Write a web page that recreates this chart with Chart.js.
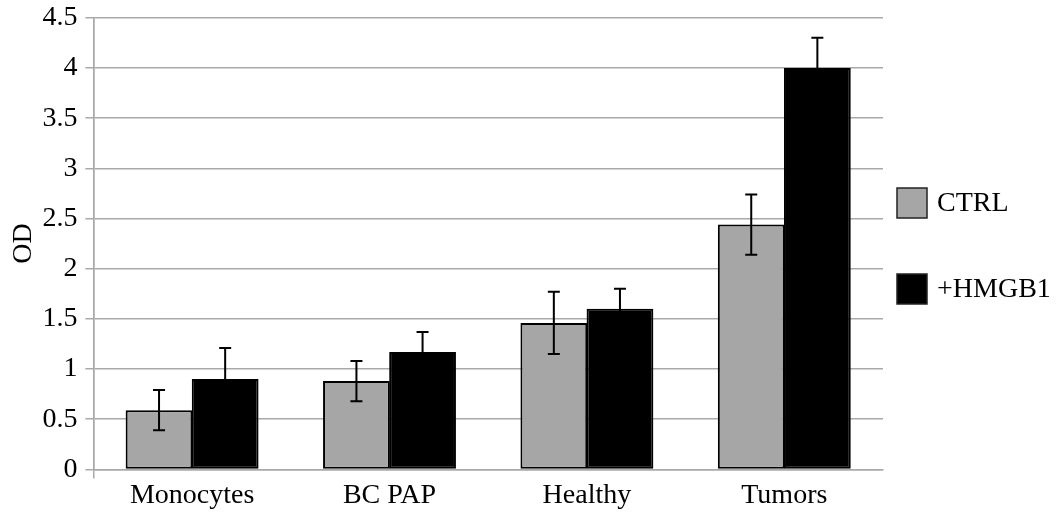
<!DOCTYPE html>
<html>
<head>
<meta charset="utf-8">
<script src="https://cdn.jsdelivr.net/npm/chart.js@4"></script>
<style>
  body { margin: 0; background: #fff; }
  #wrap { width: 1063px; height: 525px; }
</style>
</head>
<body>
<div id="wrap"><canvas id="odChart" width="1063" height="525"></canvas></div>
<script>
// --- Data ---
const categories = ['Monocytes', 'BC PAP', 'Healthy', 'Tumors'];
const ctrlValues = [0.59, 0.88, 1.46, 2.44];
const hmgb1Values = [0.90, 1.17, 1.60, 4.00];
const ctrlErrors = [0.20, 0.20, 0.31, 0.30];
const hmgb1Errors = [0.31, 0.20, 0.20, 0.30];

// --- Styles ---
const FONT = "'Liberation Serif', 'Times New Roman', serif";
const GRID_GRAY = '#a9a9a9';
const CTRL_GRAY = '#a6a6a6';

// --- Error bars drawn from the bar elements and the y scale ---
const errorBarPlugin = {
    id: 'errorBars',
    afterDatasetsDraw(chart) {
        const ctx = chart.ctx;
        const yScale = chart.scales.y;
        ctx.save();
        ctx.strokeStyle = '#000';
        ctx.lineWidth = 2;
        chart.data.datasets.forEach((ds, di) => {
            const meta = chart.getDatasetMeta(di);
            meta.data.forEach((bar, i) => {
                const v = ds.data[i];
                const e = ds.errors[i];
                const x = bar.x;
                const yTop = yScale.getPixelForValue(v + e);
                const yBot = yScale.getPixelForValue(v - e);
                const cap = 6;
                ctx.beginPath();
                ctx.moveTo(x, yTop); ctx.lineTo(x, yBot);
                ctx.moveTo(x - cap, yTop); ctx.lineTo(x + cap, yTop);
                ctx.moveTo(x - cap, yBot); ctx.lineTo(x + cap, yBot);
                ctx.stroke();
            });
        });
        ctx.restore();
    }
};

// --- Legend on the right, one entry per dataset ---
const sideLegendPlugin = {
    id: 'sideLegend',
    afterDraw(chart) {
        const ctx = chart.ctx;
        const left = chart.chartArea.right + 14;
        const firstY = 203;
        const gap = 86;
        ctx.save();
        ctx.font = '28px ' + FONT;
        ctx.textBaseline = 'middle';
        chart.data.datasets.forEach((ds, i) => {
            const cy = firstY + i * gap;
            ctx.fillStyle = ds.backgroundColor;
            ctx.fillRect(left, cy - 15, 30, 30);
            ctx.strokeStyle = '#222';
            ctx.lineWidth = 1.5;
            ctx.strokeRect(left, cy - 15, 30, 30);
            ctx.fillStyle = '#000';
            ctx.fillText(ds.label, left + 40, cy + 1);
        });
        ctx.restore();
    }
};

const ctx = document.getElementById('odChart').getContext('2d');
new Chart(ctx, {
    type: 'bar',
    data: {
        labels: categories,
        datasets: [
            {
                label: 'CTRL', data: ctrlValues, errors: ctrlErrors,
                backgroundColor: CTRL_GRAY, borderColor: '#000', borderWidth: 2,
                borderSkipped: false, categoryPercentage: 0.67, barPercentage: 1.01
            },
            {
                label: '+HMGB1', data: hmgb1Values, errors: hmgb1Errors,
                backgroundColor: '#000', borderColor: '#000', borderWidth: 2,
                borderSkipped: false, categoryPercentage: 0.67, barPercentage: 1.01
            }
        ]
    },
    options: {
        responsive: false,
        animation: false,
        layout: { padding: { left: 2, right: 180, top: 12, bottom: 13 } },
        scales: {
            x: {
                grid: {
                    offset: true,
                    drawOnChartArea: true,
                    tickLength: 9,
                    lineWidth: 1.5,
                    color: (c) => (c.index === 0 || c.index === categories.length) ? GRID_GRAY : 'rgba(0,0,0,0)'
                },
                border: { display: true, color: GRID_GRAY, width: 1.5 },
                ticks: { color: '#000', padding: 0, font: { family: FONT, size: 28 } }
            },
            y: {
                min: 0, max: 4.5,
                ticks: {
                    stepSize: 0.5, color: '#000', padding: 8,
                    font: { family: FONT, size: 28, lineHeight: 0.7 },
                    callback: (v) => String(v)
                },
                grid: { color: GRID_GRAY, lineWidth: 1.5, tickLength: 8 },
                border: { display: true, color: GRID_GRAY, width: 1.5 },
                title: {
                    display: true, text: 'OD', color: '#000',
                    padding: { top: 10, bottom: 0 },
                    font: { family: FONT, size: 28, lineHeight: 0.8 }
                }
            }
        },
        plugins: {
            legend: { display: false },
            tooltip: { enabled: false }
        }
    },
    plugins: [errorBarPlugin, sideLegendPlugin]
});
</script>
</body>
</html>
